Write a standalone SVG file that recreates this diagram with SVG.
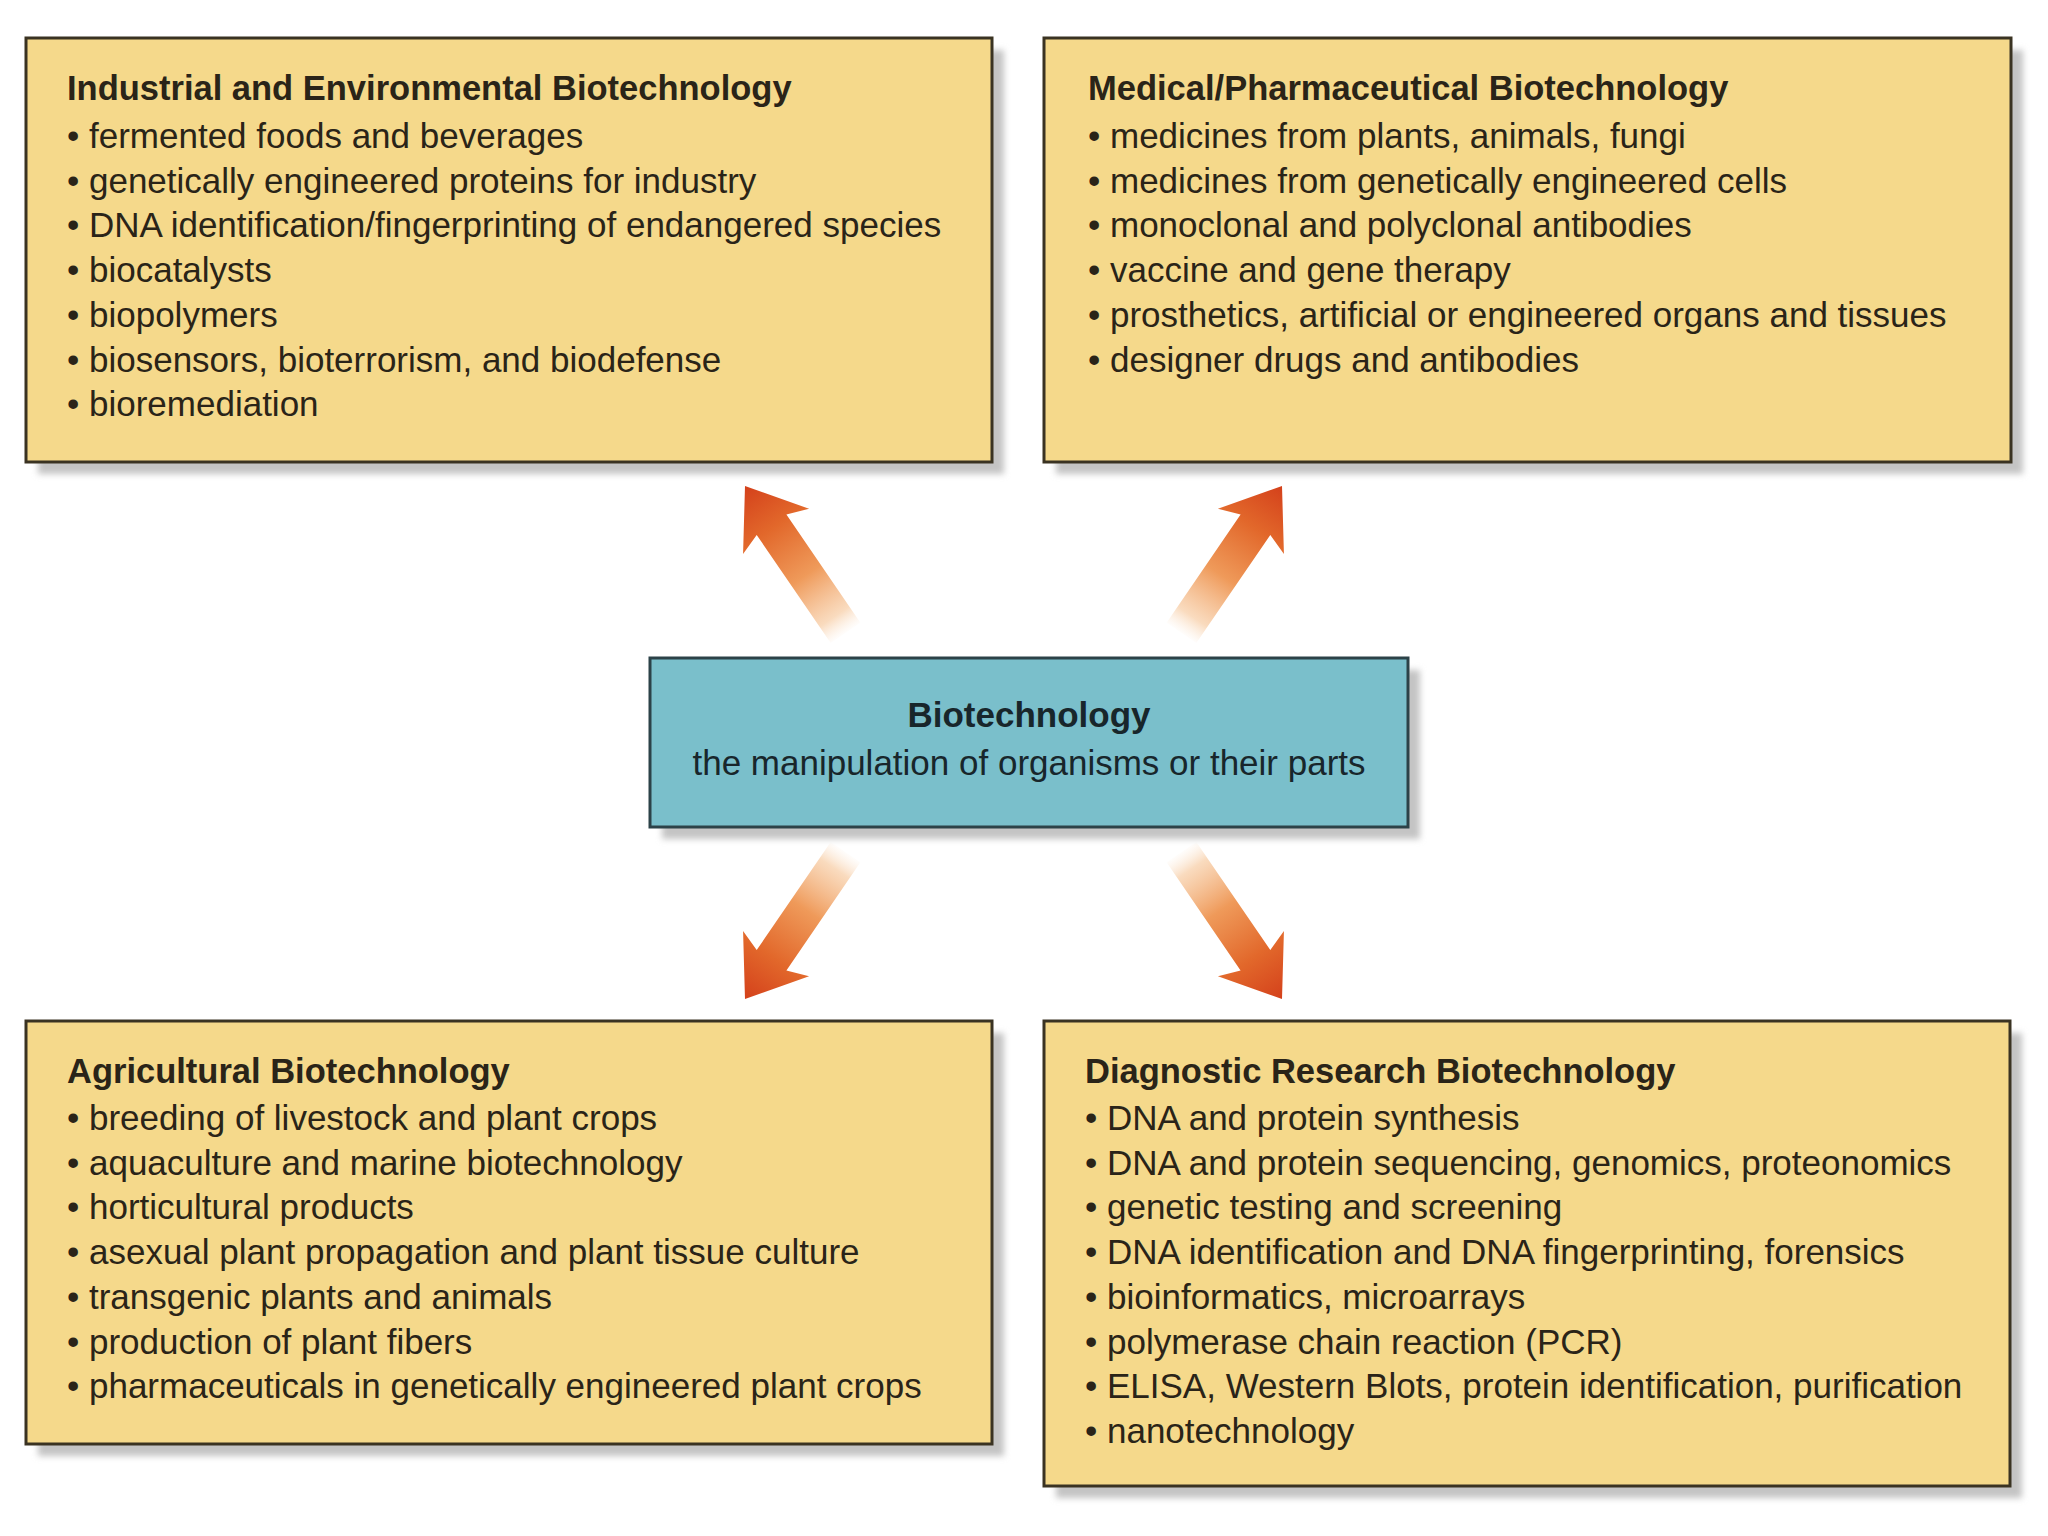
<svg xmlns="http://www.w3.org/2000/svg" width="2048" height="1536" viewBox="0 0 2048 1536">
  <defs>
    <filter id="blur" x="-5%" y="-5%" width="110%" height="110%">
      <feGaussianBlur stdDeviation="3"/>
    </filter>
    <linearGradient id="arrowGrad" gradientUnits="userSpaceOnUse" x1="0" y1="180" x2="0" y2="0">
      <stop offset="0" stop-color="#fbe6d2" stop-opacity="0"/>
      <stop offset="0.12" stop-color="#f8d2ae" stop-opacity="0.8"/>
      <stop offset="0.4" stop-color="#ef9a5a"/>
      <stop offset="0.72" stop-color="#e2682b"/>
      <stop offset="1" stop-color="#d4411b"/>
    </linearGradient>
    <path id="arrow" d="M0,0 L40,55 L18,47 L18,178 L-18,178 L-18,47 L-40,55 Z"/>
  </defs>
  <style>
    .shadow { fill: #c4c4c4; filter: url(#blur); }
    .box { fill: #f5d98b; stroke: #3a3322; stroke-width: 3; }
    .center { fill: #7abfcb; stroke: #2c4248; stroke-width: 3; }
    .title { font-family: "Liberation Sans", Arial, sans-serif; font-weight: bold; font-size: 34.5px; fill: #2a2418; }
    .item { font-family: "Liberation Sans", Arial, sans-serif; font-size: 35px; fill: #2a2418; }
    .ctitle { font-family: "Liberation Sans", Arial, sans-serif; font-weight: bold; font-size: 35px; fill: #18262b; text-anchor: middle; }
    .ctext { font-family: "Liberation Sans", Arial, sans-serif; font-size: 35px; fill: #18262b; text-anchor: middle; }
    .arr { fill: url(#arrowGrad); }
  </style>
  <rect width="2048" height="1536" fill="#ffffff"/>

  <g id="connectors">
    <use href="#arrow" class="arr" transform="translate(745,486) rotate(-34.4)"/>
    <use href="#arrow" class="arr" transform="translate(1282,486) rotate(34.4)"/>
    <use href="#arrow" class="arr" transform="translate(745,999) rotate(-145.6)"/>
    <use href="#arrow" class="arr" transform="translate(1282,999) rotate(145.6)"/>
  </g>

  <g id="industrial">
    <rect class="shadow" x="38" y="50" width="966" height="424"/>
    <rect class="box" x="26" y="38" width="966" height="424"/>
    <text class="title" x="67" y="100">Industrial and Environmental Biotechnology</text>
    <text class="item" x="67" y="148">• fermented foods and beverages</text>
    <text class="item" x="67" y="192.7">• genetically engineered proteins for industry</text>
    <text class="item" x="67" y="237.4">• DNA identification/fingerprinting of endangered species</text>
    <text class="item" x="67" y="282.1">• biocatalysts</text>
    <text class="item" x="67" y="326.8">• biopolymers</text>
    <text class="item" x="67" y="371.5">• biosensors, bioterrorism, and biodefense</text>
    <text class="item" x="67" y="416.2">• bioremediation</text>
  </g>

  <g id="medical">
    <rect class="shadow" x="1056" y="50" width="967" height="424"/>
    <rect class="box" x="1044" y="38" width="967" height="424"/>
    <text class="title" x="1088" y="100">Medical/Pharmaceutical Biotechnology</text>
    <text class="item" x="1088" y="148">• medicines from plants, animals, fungi</text>
    <text class="item" x="1088" y="192.7">• medicines from genetically engineered cells</text>
    <text class="item" x="1088" y="237.4">• monoclonal and polyclonal antibodies</text>
    <text class="item" x="1088" y="282.1">• vaccine and gene therapy</text>
    <text class="item" x="1088" y="326.8">• prosthetics, artificial or engineered organs and tissues</text>
    <text class="item" x="1088" y="371.5">• designer drugs and antibodies</text>
  </g>

  <g id="biotechnology">
    <rect class="shadow" x="662" y="670" width="758" height="169"/>
    <rect class="center" x="650" y="658" width="758" height="169"/>
    <text class="ctitle" x="1029" y="727">Biotechnology</text>
    <text class="ctext" x="1029" y="775">the manipulation of organisms or their parts</text>
  </g>

  <g id="agricultural">
    <rect class="shadow" x="38" y="1033" width="966" height="423"/>
    <rect class="box" x="26" y="1021" width="966" height="423"/>
    <text class="title" x="67" y="1083">Agricultural Biotechnology</text>
    <text class="item" x="67" y="1130">• breeding of livestock and plant crops</text>
    <text class="item" x="67" y="1174.7">• aquaculture and marine biotechnology</text>
    <text class="item" x="67" y="1219.4">• horticultural products</text>
    <text class="item" x="67" y="1264.1">• asexual plant propagation and plant tissue culture</text>
    <text class="item" x="67" y="1308.8">• transgenic plants and animals</text>
    <text class="item" x="67" y="1353.5">• production of plant fibers</text>
    <text class="item" x="67" y="1398.2">• pharmaceuticals in genetically engineered plant crops</text>
  </g>

  <g id="diagnostic">
    <rect class="shadow" x="1056" y="1033" width="966" height="465"/>
    <rect class="box" x="1044" y="1021" width="966" height="465"/>
    <text class="title" x="1085" y="1083">Diagnostic Research Biotechnology</text>
    <text class="item" x="1085" y="1130">• DNA and protein synthesis</text>
    <text class="item" x="1085" y="1174.7">• DNA and protein sequencing, genomics, proteonomics</text>
    <text class="item" x="1085" y="1219.4">• genetic testing and screening</text>
    <text class="item" x="1085" y="1264.1">• DNA identification and DNA fingerprinting, forensics</text>
    <text class="item" x="1085" y="1308.8">• bioinformatics, microarrays</text>
    <text class="item" x="1085" y="1353.5">• polymerase chain reaction (PCR)</text>
    <text class="item" x="1085" y="1398.2">• ELISA, Western Blots, protein identification, purification</text>
    <text class="item" x="1085" y="1442.9">• nanotechnology</text>
  </g>
</svg>
